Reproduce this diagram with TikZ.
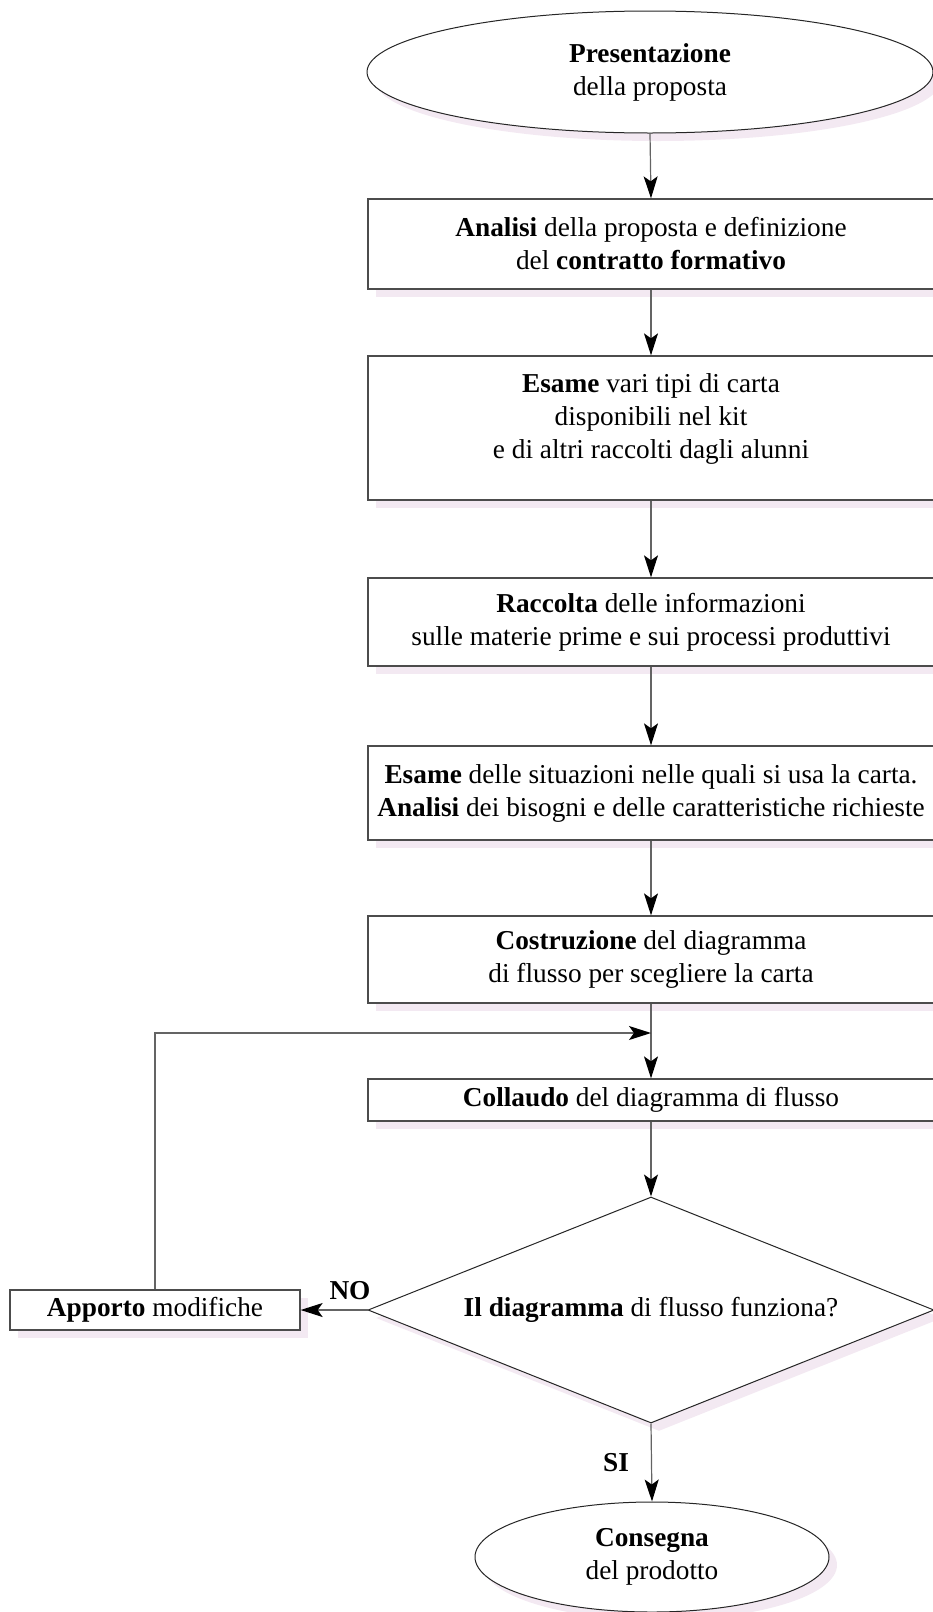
\documentclass[tikz,border=0pt]{standalone}
\usepackage{fontspec}
\setmainfont{Liberation Serif}
\usetikzlibrary{arrows.meta,shapes.geometric,shadows}
\definecolor{shadowpink}{RGB}{243,233,242}
\definecolor{linegray}{RGB}{100,100,100}
\begin{document}
\begin{tikzpicture}[x=1pt,y=-1pt,
  every node/.style={font=\fontsize{27.3}{33}\selectfont, align=center, inner sep=0pt},
  pshadow/.style={drop shadow={shadow xshift=8pt, shadow yshift=-8pt, fill=shadowpink, draw=none, opacity=1}},
  stepbox/.style={rectangle, draw=black!70, line width=1.3pt, fill=white, minimum width=566pt, pshadow},
  termbox/.style={ellipse, draw=black!85, line width=1pt, fill=white, pshadow},
  decbox/.style={diamond, aspect=2.5, draw=black!85, line width=1pt, fill=white, minimum width=566pt, minimum height=226pt, pshadow},
  flow/.style={draw=linegray, line width=1.2pt, -{Stealth[length=22pt,width=14pt,inset=5pt,color=black]}},
  lbl/.style={font=\fontsize{27.3}{33}\selectfont\bfseries}
]
\useasboundingbox (0,0) rectangle (932,1612);

% process chain
\node[termbox, minimum width=566pt, minimum height=122pt] (start) at (650,72)
  {\textbf{Presentazione}\\della proposta};
\node[stepbox, minimum height=90pt] (b1) at (651,244)
  {\textbf{Analisi} della proposta e definizione\\del \textbf{contratto formativo}};
\node[stepbox, minimum height=144pt] (b2) at (651,428) {};
\node (b2text) at (651,419)
  {\textbf{Esame} vari tipi di carta\\disponibili nel kit\\e di altri raccolti dagli alunni};
\node[stepbox, minimum height=88pt] (b3) at (651,622)
  {\textbf{Raccolta} delle informazioni\\sulle materie prime e sui processi produttivi};
\node[stepbox, minimum height=94pt] (b4) at (651,793)
  {\textbf{Esame} delle situazioni nelle quali si usa la carta.\\\textbf{Analisi} dei bisogni e delle caratteristiche richieste};
\node[stepbox, minimum height=87pt] (b5) at (651,959.5)
  {\textbf{Costruzione} del diagramma\\di flusso per scegliere la carta};
\node[stepbox, minimum height=42pt] (b6) at (651,1100)
  {\textbf{Collaudo} del diagramma di flusso};
\node[decbox] (dec) at (651,1310)
  {\textbf{Il diagramma} di flusso funziona?};
\node[stepbox, minimum width=290pt, minimum height=40pt] (fix) at (155,1310)
  {\textbf{Apporto} modifiche};
\node[termbox, minimum width=354pt, minimum height=110pt] (end) at (652,1557)
  {\textbf{Consegna}\\del prodotto};

\coordinate (join) at (651,1033);

% connectors
\draw[flow] (start.south) -- (b1.north);
\draw[flow] (b1) -- (b2);
\draw[flow] (b2) -- (b3);
\draw[flow] (b3) -- (b4);
\draw[flow] (b4) -- (b5);
\draw[flow] (b5) -- (b6);
\draw[flow] (b6) -- (dec.north);
\draw[flow] (dec.south) -- node[lbl, left=22pt] {SI} (end.north);
\draw[flow] (dec.west) -- (fix.east);
\node[lbl, anchor=south] (no) at (350,1300) {NO};
\draw[flow] (fix.north) |- (join);
\end{tikzpicture}
\end{document}
